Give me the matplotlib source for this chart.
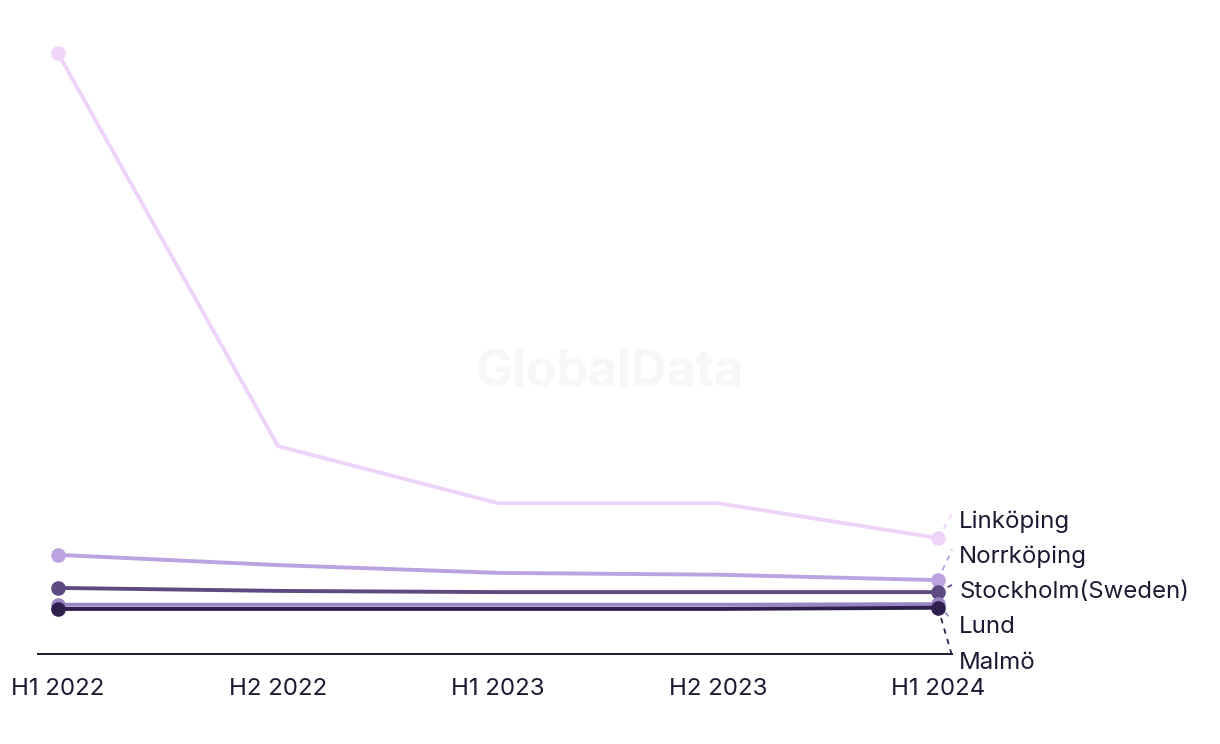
import matplotlib.pyplot as plt

# half-year periods and city series
periods = ["H1 2022", "H2 2022", "H1 2023", "H2 2023", "H1 2024"]
cities = ["Linköping", "Norrköping", "Stockholm(Sweden)", "Lund", "Malmö"]
linkoping = [100.0, 34.6, 25.1, 25.1, 19.3]
norrkoping = [16.5, 14.8, 13.5, 13.2, 12.3]
stockholm = [11.0, 10.5, 10.3, 10.3, 10.3]
lund = [8.2, 8.2, 8.2, 8.2, 8.3]
malmo = [7.5, 7.5, 7.5, 7.5, 7.7]
colors = ["#efd4fa", "#bca2e0", "#5e4a80", "#9b84c4", "#2f1f4d"]

series = [linkoping, norrkoping, stockholm, lund, malmo]

plt.rcParams['font.family'] = ['Inter', 'DejaVu Sans']
txt_color = "#1c1a33"

fig = plt.figure(figsize=(12.2, 7.44), dpi=100)
ax = fig.add_axes([38 / 1220, 1 - 654 / 744, (952 - 38) / 1220, (654 - 40) / 744])

x = list(range(len(periods)))
for vals, c in zip(series, colors):
    ax.plot(x, vals, color=c, lw=2.8, marker="o", markersize=9.5,
            markevery=[0, len(vals) - 1], solid_capstyle="round", zorder=3)

ymax = 102.2
ax.set_ylim(0, ymax)
ax.set_xlim(-20 / 220, 4 + 14 / 220)

# end labels, spread out so they don't collide
px_per_unit = 614 / ymax
gap = 35.3 / px_per_unit
top_label = linkoping[-1] + 2.75
for i, (name, vals, c) in enumerate(zip(cities, series, colors)):
    ly = top_label - i * gap
    ax.plot([x[-1], 4 + 14 / 220], [vals[-1], ly + 1.2], color=c, lw=1.3,
            ls=(0, (3, 3)), clip_on=False, zorder=2)
    ax.text(4 + 21 / 220, ly, name, fontsize=17.3, color=txt_color,
            va="center", ha="left", clip_on=False)

ax.set_xticks(x)
ax.set_xticklabels(periods, fontsize=17.3, color=txt_color)
ax.tick_params(axis="x", length=0, pad=17)
ax.set_yticks([])
for s in ["top", "right", "left"]:
    ax.spines[s].set_visible(False)
ax.spines["bottom"].set_color(txt_color)
ax.spines["bottom"].set_linewidth(1.4)

fig.text(0.5, 1 - 373 / 744, "GlobalData", fontsize=36, fontweight="bold",
         color="#f7f7f7", ha="center", va="center", zorder=0)

fig.savefig("out.png", dpi=100)
